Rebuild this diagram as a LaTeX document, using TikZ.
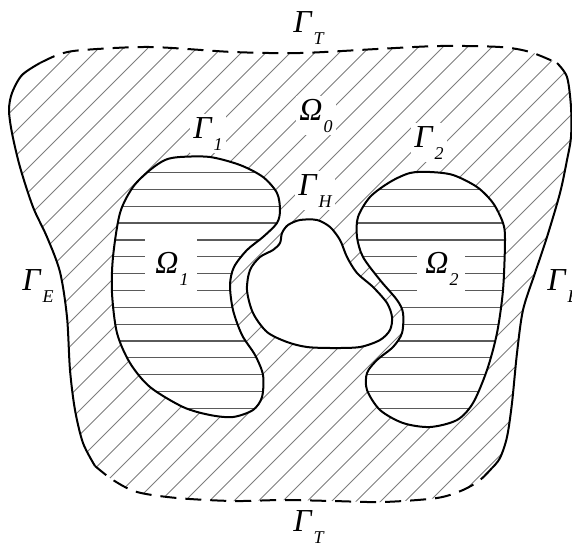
\documentclass[tikz,border=0pt]{standalone}
\usepackage{fontspec}
\setmainfont{Liberation Serif}
\usetikzlibrary{positioning}
\definecolor{hatchgray}{RGB}{125,125,125}
\definecolor{linegray}{RGB}{90,90,90}

\newcommand{\sym}[2]{\textit{#1}\kern0.5pt\raisebox{-6pt}{\fontsize{9}{9}\selectfont\textit{#2}}}

% outer boundary, in four parts, and as a whole
\newcommand{\outertop}{plot[smooth] coordinates {(40,63) (60,54) (83,50) (150,47) (233,52) (300,53) (377,49) (440,46) (500,47) (530,52) (557,63)}}
\newcommand{\outerright}{plot[smooth] coordinates {(557,63) (567,77) (571,107) (571,137) (567,160) (560,193) (547,237) (535,273) (523,310) (517,353) (512,403) (507,437) (500,458) (492,468)}}
\newcommand{\outerbottom}{plot[smooth] coordinates {(492,468) (480,480) (463,490) (437,498) (383,502) (333,501) (283,500) (233,501) (177,498) (137,492) (113,480) (95,466)}}
\newcommand{\outerleft}{plot[smooth] coordinates {(95,466) (83,443) (75,410) (70,370) (67,317) (60,272) (47,237) (33,207) (20,167) (12,133) (9,110) (12,93) (22,75) (40,63)}}
\newcommand{\outerall}{plot[smooth cycle] coordinates {(40,63) (60,54) (83,50) (150,47) (233,52) (300,53) (377,49) (440,46) (500,47) (530,52) (557,63)
  (567,77) (571,107) (571,137) (567,160) (560,193) (547,237) (535,273) (523,310) (517,353) (512,403) (507,437) (500,458) (492,468)
  (480,480) (463,490) (437,498) (383,502) (333,501) (283,500) (233,501) (177,498) (137,492) (113,480) (95,466)
  (83,443) (75,410) (70,370) (67,317) (60,272) (47,237) (33,207) (20,167) (12,133) (9,110) (12,93) (22,75)}}

% inner domains and the hole
\newcommand{\omegaone}{plot[smooth cycle] coordinates {(180,157) (210,157) (240,165) (263,177) (277,193) (280,210) (277,223) (263,237) (247,250) (234,267) (230,285) (233,310) (242,335) (255,355) (263,375) (262,397) (253,410) (233,417) (210,415) (183,407) (150,387) (130,363) (117,333) (112,293) (113,257) (120,213) (133,187) (150,170) (165,160)}}
\newcommand{\omegatwo}{plot[smooth cycle] coordinates {(410,173) (430,172) (453,175) (477,187) (493,203) (503,223) (505,240) (503,290) (497,333) (487,370) (473,403) (457,420) (430,427) (403,423) (380,410) (367,390) (367,373) (377,360) (393,347) (402,333) (403,313) (397,300) (380,280) (363,257) (357,237) (358,217) (370,197) (390,182)}}
\newcommand{\holeh}{plot[smooth cycle] coordinates {(300,220) (317,220) (330,227) (340,240) (347,257) (357,273) (373,287) (387,303) (392,317) (390,330) (380,340) (360,347) (333,348) (307,347) (287,342) (267,332) (253,313) (247,290) (250,270) (260,257) (273,250) (280,243) (282,233) (288,225)}}

\begin{document}
\begin{tikzpicture}[x=0.5pt, y=-0.5pt,
    bound/.style={line width=1pt, line join=round},
    dashbound/.style={bound, dash pattern=on 8pt off 4.5pt},
    diag/.style={hatchgray, line width=0.45pt},
    horiz/.style={linegray, line width=0.6pt},
    lbl/.style={anchor=base west, inner sep=1.5pt, fill=white,
                font=\fontsize{16}{16}\selectfont}
  ]
  \useasboundingbox (0,0) rectangle (572,547);

  % hatching of Omega_0
  \begin{scope}
    \clip \outerall;
    \foreach \k in {-6,...,30}
      \draw[diag] ({245+24.5*\k},0) -- ({245+24.5*\k-600},600);
  \end{scope}
  \fill[white] \omegaone;
  \fill[white] \omegatwo;
  \fill[white] \holeh;

  % hatching of Omega_1 and Omega_2
  \begin{scope}
    \clip \omegaone;
    \foreach \k in {0,...,14}
      \draw[horiz] (100,{172.5+16.85*\k}) -- (300,{172.5+16.85*\k});
    \fill[white] (145,233) rectangle (197,299);
  \end{scope}
  \begin{scope}
    \clip \omegatwo;
    \foreach \k in {0,...,14}
      \draw[horiz] (340,{172.5+16.85*\k}) -- (520,{172.5+16.85*\k});
    \fill[white] (417,249) rectangle (465,299);
  \end{scope}

  % boundaries
  \draw[dashbound] \outertop;
  \draw[bound] \outerright;
  \draw[dashbound] \outerbottom;
  \draw[bound] \outerleft;
  \draw[bound] \omegaone;
  \draw[bound] \omegatwo;
  \draw[bound] \holeh;

  % labels
  \node[lbl] (gtop) at (290,32) {\sym{Γ}{T}};
  \node[lbl] (om0) at (296,120) {\sym{Ω}{0}};
  \node[lbl] (g1) at (190,138) {\sym{Γ}{1}};
  \node[lbl] (g2) at (411,147) {\sym{Γ}{2}};
  \node[lbl] (gh) at (295,195) {\sym{Γ}{H}};
  \node[lbl, fill=none] (om1) at (152,273) {\sym{Ω}{1}};
  \node[lbl, fill=none] (om2) at (422,273) {\sym{Ω}{2}};
  \node[lbl] (gel) at (19,290) {\sym{Γ}{E}};
  \node[lbl, fill=none] (ger) at (544,290) {\sym{Γ}{E}};
  \node[lbl] (gbot) at (290,531) {\sym{Γ}{T}};
\end{tikzpicture}
\end{document}
